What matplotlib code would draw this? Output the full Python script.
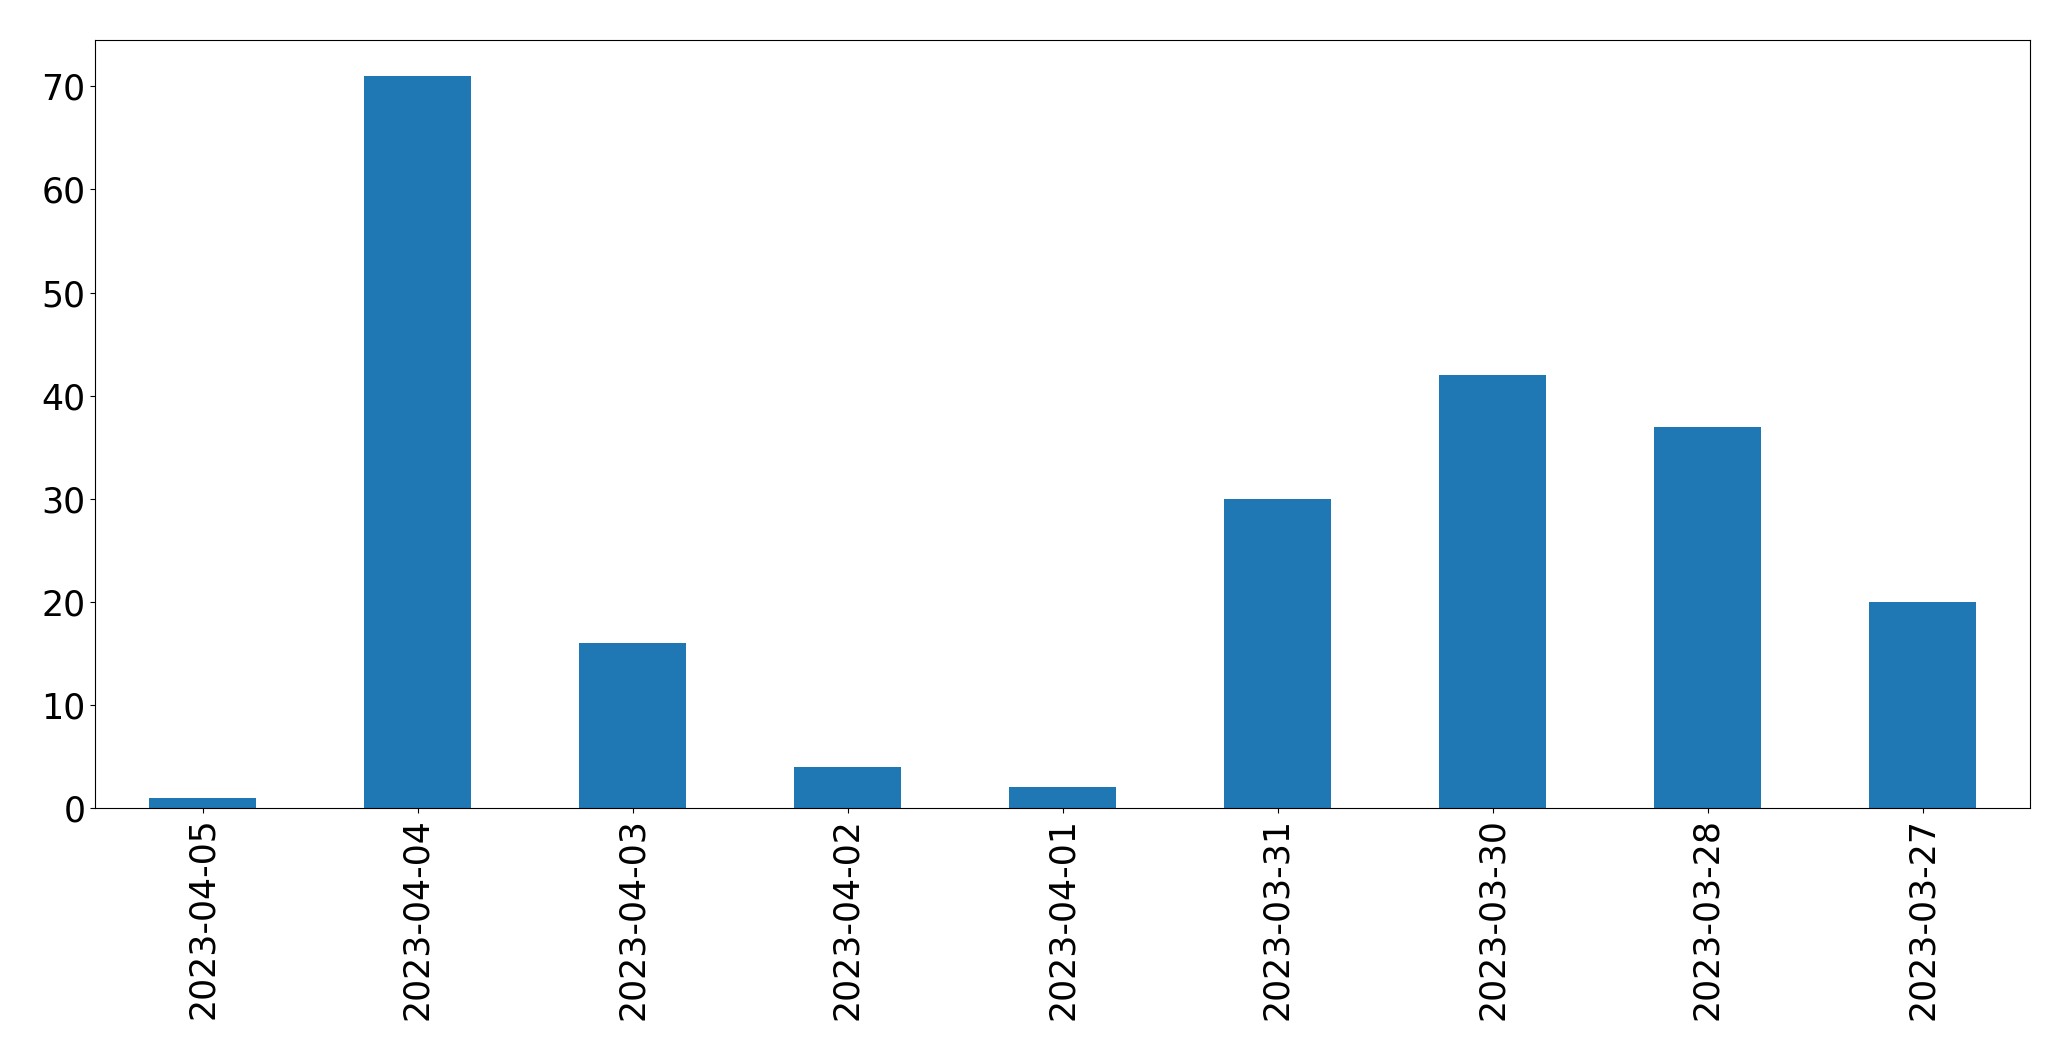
import matplotlib
matplotlib.use("Agg")
import matplotlib.pyplot as plt
import pandas as pd

dates = ["2023-04-05", "2023-04-04", "2023-04-03", "2023-04-02", "2023-04-01",
         "2023-03-31", "2023-03-30", "2023-03-28", "2023-03-27"]
counts = [1, 71, 16, 4, 2, 30, 42, 37, 20]

s = pd.Series(counts, index=dates)

fig = plt.figure(figsize=(20.71, 10.61), dpi=100)
ax = fig.add_axes([95 / 2071, 1 - 808 / 1061, (2030 - 95) / 2071, (808 - 40) / 1061])
s.plot(kind="bar", ax=ax, color="#1f77b4")
ax.set_ylim(0, 74.5)
ax.tick_params(axis="both", labelsize=25)
fig.savefig("out.png", dpi=100)
